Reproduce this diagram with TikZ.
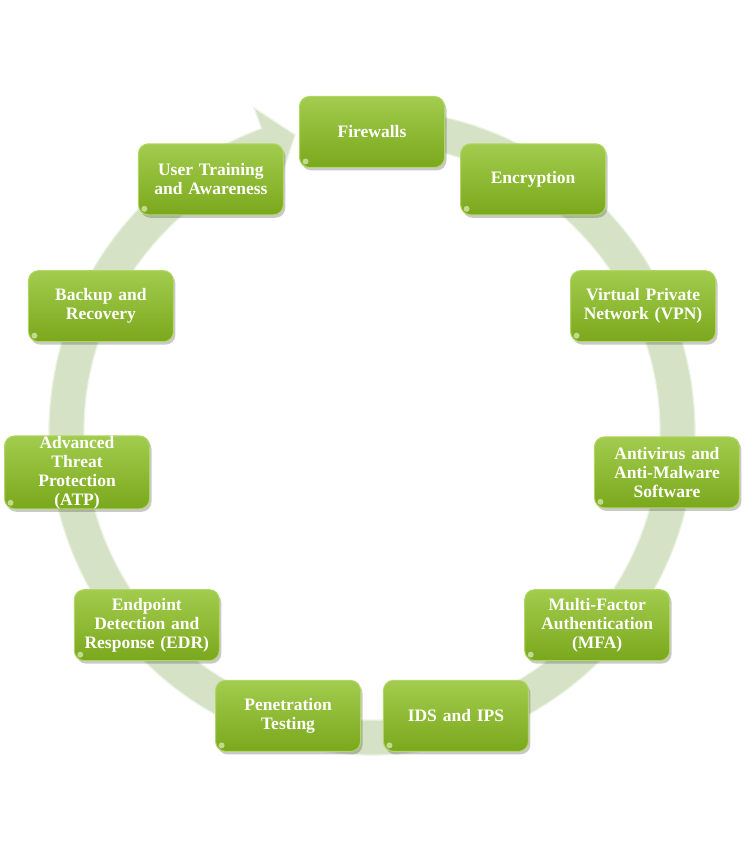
\documentclass[tikz,border=0pt]{standalone}
\usepackage{fontspec}
\setmainfont{Liberation Serif}
\usetikzlibrary{shadows}
\definecolor{ringfill}{RGB}{213,226,197}
\definecolor{ringedge}{RGB}{236,243,229}
\definecolor{boxtop}{RGB}{162,204,78}
\definecolor{boxmid}{RGB}{139,185,44}
\definecolor{boxbot}{RGB}{122,168,28}
\definecolor{boxedge}{RGB}{178,214,102}
\definecolor{spot}{RGB}{240,250,210}
\tikzset{
  stepbox/.style={rectangle, rounded corners=10pt, minimum width=145pt, minimum height=71pt,
    top color=boxtop, middle color=boxmid, bottom color=boxbot, draw=boxedge, line width=1pt,
    drop shadow={shadow xshift=2pt, shadow yshift=-3pt, opacity=0.3, fill=black!70},
    text=white, font=\bfseries\fontsize{17.5}{19}\selectfont, align=center, text width=140pt,
    inner sep=0pt,
    path picture={\fill[spot, opacity=0.6] ([shift={(6pt,6pt)}]path picture bounding box.south west) circle (3pt);}},
  ring/.style={fill=ringfill, draw=ringedge, line width=1.2pt}
}
\begin{document}
\begin{tikzpicture}[x=1pt,y=1pt]
\useasboundingbox (0,0) rectangle (746,849);
% circular arrow
\begin{scope}[shift={(372,417)}]
\path[ring] (78:323pt) arc[start angle=78, end angle=-250, radius=323pt]
  -- (-250:345pt) -- (-255.5:307pt) -- (-250:268pt) -- (-250:288pt)
  arc[start angle=-250, end angle=78, radius=288pt] -- cycle;
\end{scope}
% boxes
\begin{scope}[shift={(372,419)}]
\node[stepbox] (b1) at (90:298pt) {Firewalls};
\node[stepbox] (b2) at (57.27:298pt) {Encryption};
\node[stepbox] (b3) at (24.55:298pt) {Virtual Private\\Network (VPN)};
\node[stepbox] (b4) at (-8.18:298pt) {Antivirus and\\Anti-Malware\\Software};
\node[stepbox] (b5) at (-40.91:298pt) {Multi-Factor\\Authentication\\(MFA)};
\node[stepbox] (b6) at (-73.64:298pt) {IDS and IPS};
\node[stepbox] (b7) at (-106.36:298pt) {Penetration\\Testing};
\node[stepbox] (b8) at (-139.09:298pt) {Endpoint\\Detection and\\Response (EDR)};
\node[stepbox] (b9) at (-171.82:298pt) {Advanced\\Threat\\Protection\\(ATP)};
\node[stepbox] (b10) at (155.45:298pt) {Backup and\\Recovery};
\node[stepbox] (b11) at (122.73:298pt) {User Training\\and Awareness};
\end{scope}
\end{tikzpicture}
\end{document}
